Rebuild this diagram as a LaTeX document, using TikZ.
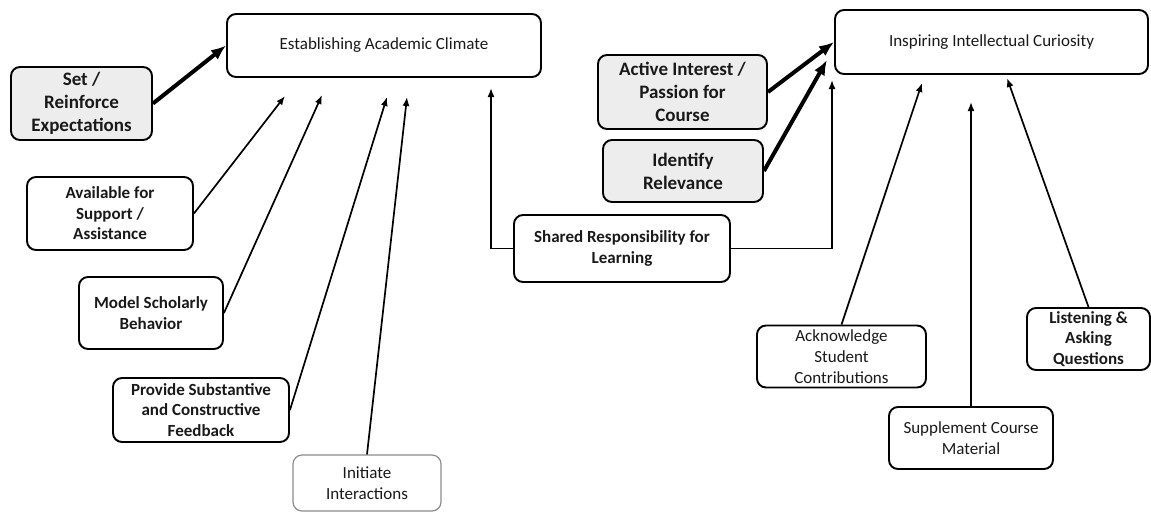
\documentclass[tikz,border=0pt]{standalone}
\usepackage{fontspec}
\setmainfont{Carlito}
\usepackage{tikz}
\usetikzlibrary{positioning,shapes,arrows.meta}

\newcommand{\bigbf}{\fontsize{19}{23}\selectfont\bfseries}
\newcommand{\midbf}{\fontsize{17}{20.5}\selectfont\bfseries}
\newcommand{\midrm}{\fontsize{17}{21}\selectfont}
\newcommand{\headrm}{\fontsize{17}{20}\selectfont}

\begin{document}
\begin{tikzpicture}[%
        x=1pt, y=-1pt,
        ->,
        >={Latex[length=9pt,width=7pt]},
        line width=1.7pt,
        item/.style={%
          rectangle,
          rounded corners=9pt,
          draw,
          line width=1.9pt,
          align=center,
          inner sep=0pt,
          text=black!90
        },
        shaded/.style={item, fill=black!7},
        faint/.style={item, draw=black!45, line width=1.2pt},
        heavy/.style={line width=4pt, >={Latex[length=15pt,width=12pt]}},
        elbow/.style={to path={-| (\tikztotarget)}}
      ]
      \useasboundingbox (0,0) rectangle (1151,515);

      % left group
      \node[shaded, minimum width=141pt, minimum height=73pt, font=\bigbf] (1) at (81.5,103.5) {Set /\\Reinforce\\Expectations};
      \node[item, minimum width=314pt, minimum height=63pt, font=\headrm] (2) at (384,45.5) {Establishing Academic Climate};
      \node[item, minimum width=166pt, minimum height=73pt, font=\midbf] (3) at (110,213.5) {Available for\\Support /\\Assistance};
      \node[item, minimum width=144pt, minimum height=72pt, font=\midbf] (4) at (151,313) {Model Scholarly\\Behavior};
      \node[item, minimum width=176pt, minimum height=64pt, font=\midbf] (5) at (201,410) {Provide Substantive\\and Constructive\\Feedback};
      \node[faint, minimum width=148pt, minimum height=56pt, font=\midrm] (6) at (367,483) {Initiate\\Interactions};

      % shared box in the middle
      \node[item, minimum width=216pt, minimum height=67pt, font=\midbf] (7) at (622,248.5) {Shared Responsibility for\\Learning};

      % right group
      \node[shaded, minimum width=169pt, minimum height=74pt, font=\bigbf] (8) at (682.5,92) {Active Interest /\\Passion for\\Course};
      \node[shaded, minimum width=160pt, minimum height=62pt, font=\bigbf] (9) at (683,171) {Identify\\Relevance};
      \node[item, minimum width=313pt, minimum height=64pt, font=\headrm] (10) at (991.5,42) {Inspiring Intellectual Curiosity};
      \node[item, minimum width=169pt, minimum height=62pt, font=\midrm] (11) at (841.5,356.5) {Acknowledge\\Student\\Contributions};
      \node[item, minimum width=164pt, minimum height=62pt, font=\midrm] (12) at (971,438) {Supplement Course\\Material};
      \node[item, minimum width=123pt, minimum height=62pt, font=\midbf] (13) at (1088.5,339) {Listening \&\\Asking\\Questions};

      % arrow ends below the two headings
      \coordinate (a1) at (285,96);
      \coordinate (a2) at (322,95);
      \coordinate (a3) at (387,97);
      \coordinate (a4) at (407,97);
      \coordinate (a5) at (491,88);
      \coordinate (b1) at (832,80);
      \coordinate (b2) at (922,83);
      \coordinate (b3) at (971,102);
      \coordinate (b4) at (1007,78);
      \coordinate (b5) at (827,60);

      \path (1.east) edge [heavy] (2.west)
      (3.east) edge [] (a1)
      (4.east) edge [] (a2)
      (5.east) edge [] (a3)
      (6.north) edge [] (a4)
      (7.west) edge [elbow] (a5)
      (7.east) edge [elbow] (b1)
      (8.east) edge [heavy] (10.west)
      (9.east) edge [heavy] (b5)
      (11.north) edge [] (b2)
      (12.north) edge [] (b3)
      (13.north) edge [] (b4);

    \end{tikzpicture}
\end{document}
